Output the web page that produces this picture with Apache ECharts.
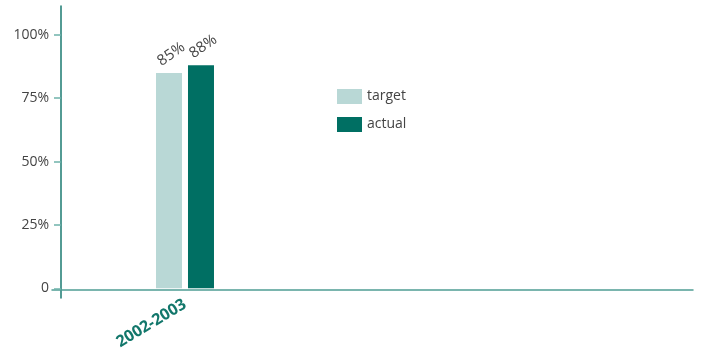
<!DOCTYPE html>
<html>
<head>
<meta charset="utf-8">
<script src="https://cdn.jsdelivr.net/npm/echarts@6/dist/echarts.min.js"></script>
<style>
  html, body { margin: 0; padding: 0; background: #fff; }
  #chart { width: 704px; height: 352px; }
</style>
</head>
<body>
<div id="chart"></div>
<script>
// Performance against target, by year
const years = ['2002-2003'];
const targetValues = [85];
const actualValues = [88];
const yTicks = [0, 25, 50, 75, 100];

const FONT = '"Open Sans", "Noto Sans", sans-serif';
const TEXT = '#444444';
const chart = echarts.init(document.getElementById('chart'), null, { renderer: 'canvas' });

const valueLabel = {
  show: true,
  position: 'top',
  distance: 8,
  offset: [8, 0],
  rotate: 35,
  align: 'center',
  verticalAlign: 'bottom',
  formatter: p => p.value + '%',
  color: TEXT,
  fontFamily: FONT,
  fontSize: 15
};

chart.setOption({
  animation: false,
  grid: [
    // bars
    { left: 61, top: 6, width: 248, bottom: 62 },
    // long horizontal baseline
    { left: 52, right: 11, top: 6, bottom: 62 },
    // vertical axis line, running a little below the baseline
    { left: 61, right: 11, top: 6, bottom: 54 }
  ],
  legend: {
    orient: 'vertical',
    left: 337,
    top: 89,
    padding: 0,
    itemWidth: 25,
    itemHeight: 15,
    itemGap: 13,
    icon: 'rect',
    textStyle: { color: TEXT, fontFamily: FONT, fontSize: 14 },
    data: ['target', 'actual']
  },
  xAxis: [
    {
      gridIndex: 0,
      type: 'category',
      data: years,
      axisLine: { show: false },
      axisTick: { show: false },
      axisLabel: {
        rotate: 31,
        margin: 15,
        color: '#12776b',
        fontWeight: 'bold',
        fontFamily: FONT,
        fontSize: 16
      }
    },
    {
      gridIndex: 1,
      type: 'value',
      axisLine: { show: true, lineStyle: { color: '#4f9d94', width: 1.5 } },
      axisTick: { show: false },
      axisLabel: { show: false },
      splitLine: { show: false }
    },
    {
      gridIndex: 2,
      type: 'value',
      show: false
    }
  ],
  yAxis: [
    {
      gridIndex: 0,
      type: 'value',
      min: 0,
      max: 111.4,
      interval: 25,
      axisLine: { show: false },
      axisTick: { show: true, length: 7, lineStyle: { color: '#6fb3ab', width: 1.5 } },
      splitLine: { show: false },
      axisLabel: {
        showMaxLabel: false,
        margin: 12,
        color: TEXT,
        fontFamily: FONT,
        fontSize: 14,
        formatter: v => (yTicks.includes(v) ? (v === 0 ? '0' : v + '%') : '')
      }
    },
    {
      gridIndex: 1,
      type: 'value',
      show: false
    },
    {
      gridIndex: 2,
      type: 'value',
      axisLine: { show: true, lineStyle: { color: '#1a7a70', width: 1.5 } },
      axisTick: { show: false },
      axisLabel: { show: false },
      splitLine: { show: false }
    }
  ],
  series: [
    {
      name: 'target',
      type: 'bar',
      xAxisIndex: 0,
      yAxisIndex: 0,
      data: targetValues,
      barWidth: 26,
      barGap: '23%',
      itemStyle: { color: '#b9d8d6' },
      label: valueLabel
    },
    {
      name: 'actual',
      type: 'bar',
      xAxisIndex: 0,
      yAxisIndex: 0,
      data: actualValues,
      barWidth: 26,
      barGap: '23%',
      itemStyle: { color: '#006f63' },
      label: valueLabel
    }
  ]
});
</script>
</body>
</html>
